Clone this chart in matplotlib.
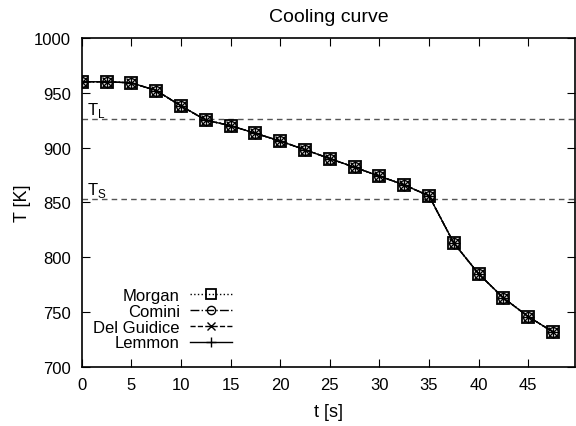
import matplotlib
matplotlib.use("Agg")
import matplotlib.pyplot as plt

plt.rcParams['font.family'] = ['Liberation Sans', 'DejaVu Sans']

t = [0, 2.5, 5, 7.5, 10, 12.5, 15, 17.5, 20, 22.5, 25, 27.5, 30, 32.5,
     35, 37.5, 40, 42.5, 45, 47.5]
T_morgan = [960, 960, 959, 952, 938, 925, 920, 913, 906, 898, 890, 882, 874,
            866, 856, 813, 785, 763, 746, 732]
T_comini = T_morgan
T_delguidice = T_morgan
T_lemmon = T_morgan
T_L = 926
T_S = 853

fig = plt.figure(figsize=(5.76, 4.27), dpi=100)
ax = fig.add_axes([0.142, 0.138, 0.856, 0.771])

ax.axhline(T_L, color='#555555', ls=(0, (4, 3)), lw=1)
ax.axhline(T_S, color='#555555', ls=(0, (4, 3)), lw=1)
ax.text(0.5, T_L + 5, r'T$_\mathregular{L}$', fontsize=12)
ax.text(0.5, T_S + 5, r'T$_\mathregular{S}$', fontsize=12)

ax.plot(t, T_morgan, color='k', ls=':', lw=1, marker='s', ms=8,
        mfc='none', mew=1.3, label='Morgan')
ax.plot(t, T_comini, color='k', ls='-.', lw=1, marker='o', ms=7,
        mfc='none', mew=1, label='Comini')
ax.plot(t, T_delguidice, color='k', ls='--', lw=1, marker='x', ms=7,
        mew=1, label='Del Guidice')
ax.plot(t, T_lemmon, color='k', ls='-', lw=1, marker='+', ms=8,
        mew=1, label='Lemmon')

ax.set_xlim(0, 49.7)
ax.set_ylim(700, 1000)
ax.set_xticks(range(0, 50, 5))
ax.set_yticks(range(700, 1001, 50))
ax.tick_params(direction='in', top=True, right=True, labelsize=12, length=6)
ax.tick_params(axis='y', pad=8)
ax.tick_params(axis='x', pad=7)
for s in ax.spines.values():
    s.set_linewidth(1.2)

ax.set_xlabel('t [s]', fontsize=13, labelpad=8)
ax.set_ylabel('T [K]', fontsize=13, labelpad=2)
ax.set_title('Cooling curve', fontsize=14, pad=12)

ax.legend(loc='lower left', bbox_to_anchor=(0.0, 0.015), markerfirst=False,
          frameon=False, fontsize=12, handlelength=2.5, handletextpad=0.6,
          labelspacing=0.05, borderaxespad=0.3, markerscale=0.85)

fig.savefig('out.png', dpi=100)
